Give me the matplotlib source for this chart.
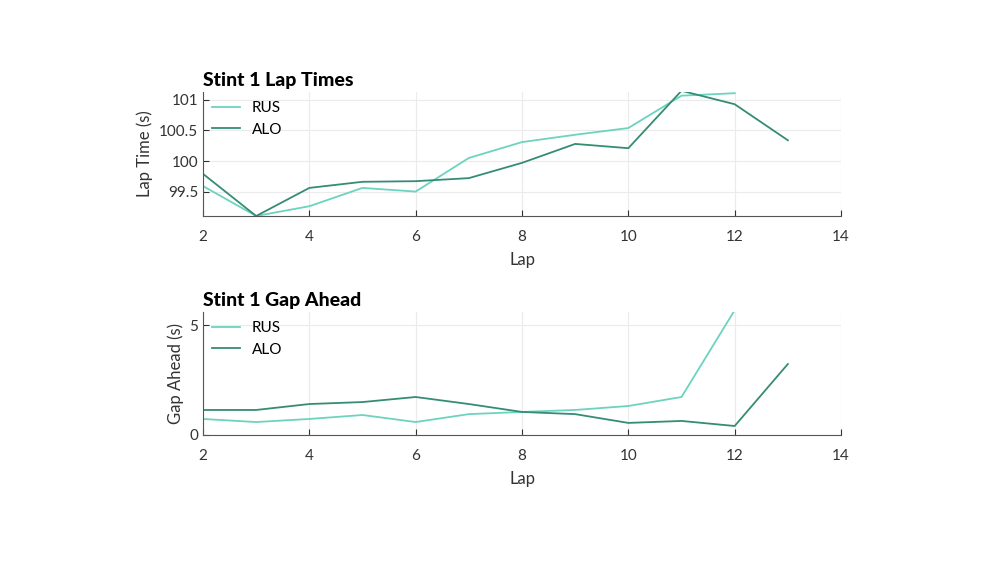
import matplotlib
matplotlib.use("Agg")
import matplotlib.pyplot as plt

laps_rus = [2,3,4,5,6,7,8,9,10,11,12]
laps_alo = [2,3,4,5,6,7,8,9,10,11,12,13]
rus_time = [99.59,99.1,99.26,99.56,99.5,100.05,100.31,100.43,100.54,101.07,101.11]
alo_time = [99.79,99.1,99.56,99.66,99.67,99.72,99.97,100.28,100.21,101.15,100.93,100.34]
rus_gap = [0.73,0.59,0.73,0.91,0.59,0.95,1.05,1.14,1.32,1.73,5.68]
alo_gap = [1.14,1.14,1.41,1.5,1.73,1.41,1.05,0.95,0.55,0.64,0.41,3.23]
xticks = [2,4,6,8,10,12,14]

plt.rcParams["font.family"] = "Lato"
C_RUS = "#6CD3BF"; C_ALO = "#358C75"
fig = plt.figure(figsize=(9.97,5.61), dpi=100)
W,H = 997,561
def ax_at(l,t,r,b):
    return fig.add_axes([l/W,1-b/H,(r-l)/W,(b-t)/H])
axes = [ax_at(203,92,841,216), ax_at(203,312,841,435)]
data = [(rus_time,alo_time,"Stint 1 Lap Times","Lap Time (s)",(99.1,101.13),[99.5,100,100.5,101],["99.5","100","100.5","101"]),
        (rus_gap,alo_gap,"Stint 1 Gap Ahead","Gap Ahead (s)",(0,5.6),[0,5],["0","5"])]
for ax,(r,a,title,yl,ylim,yt,ytl) in zip(axes,data):
    ax.plot(laps_rus,r,color=C_RUS,lw=1.3,label="RUS")
    ax.plot(laps_alo,a,color=C_ALO,lw=1.3,label="ALO")
    ax.set_xlim(2,14); ax.set_ylim(*ylim)
    ax.set_xticks(xticks); ax.set_yticks(yt); ax.set_yticklabels(ytl)
    ax.grid(True,color="#ebebeb",lw=0.8)
    for s in ["top","right"]:
        ax.spines[s].set_visible(False)
    for s in ["left","bottom"]:
        ax.spines[s].set_color("#555555")
    ax.tick_params(colors="#333333",labelsize=11,direction="in",length=4)
    ax.tick_params(axis="x",pad=10)
    ax.set_xlabel("Lap",fontsize=12,color="#333333",labelpad=6)
    ax.set_ylabel(yl,fontsize=12,color="#333333")
    ax.set_title(title,loc="left",fontsize=14,fontweight="heavy",pad=4)
    ax.legend(loc="upper left",frameon=False,fontsize=11,handlelength=1.8,borderaxespad=0.2)
fig.savefig("out.png",dpi=100)
